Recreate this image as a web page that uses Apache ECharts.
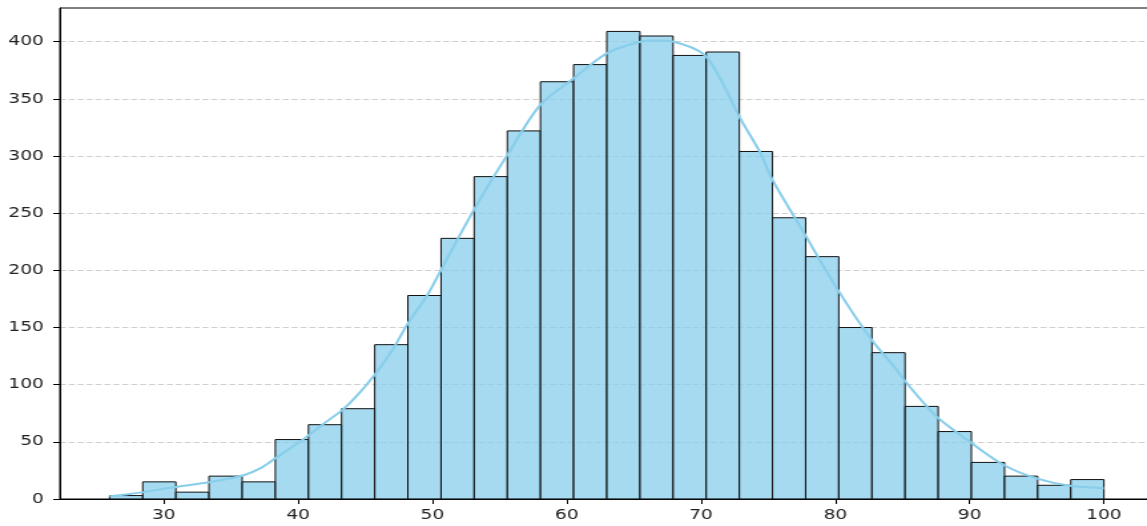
<!DOCTYPE html>
<html>
<head>
<meta charset="utf-8">
<script src="https://cdn.jsdelivr.net/npm/echarts@6/dist/echarts.min.js"></script>
<style>
  html, body { margin: 0; padding: 0; background: #fff; overflow: hidden; }
  #wrap { width: 1147px; height: 526px; overflow: hidden; }
  /* the figure is laid out narrow and stretched horizontally; its right edge runs past the window */
  #chart { width: 867px; height: 526px; transform: scaleX(1.3306); transform-origin: 0 0; }
</style>
</head>
<body>
<div id="wrap"><div id="chart"></div></div>
<script>
// Histogram: 30 equal-width bins between binLow and binHigh
const binLow = 25.96;
const binHigh = 100;
const counts = [3, 15, 6, 20, 15, 52, 65, 79, 135, 178,
                228, 282, 322, 365, 380, 409, 405, 388, 391, 304,
                246, 212, 150, 128, 81, 59, 32, 20, 12, 17];

// Density estimate, scaled to counts
const kdeX = [25.96, 27.2, 28.5, 30, 31.5, 33, 34.5, 36, 37.2, 38.35,
              39.5, 40.7, 41.8, 43.3, 44.5, 45.66, 47, 48.14, 49.6, 50.62,
              53.09, 55.58, 58.05, 60.53, 63.01, 65.49, 66.7, 67.96, 70.19, 71.5,
              72.92, 74.4, 75.28, 77.75, 80.23, 82.71, 84.57, 85.06, 87.55, 90.02,
              92.5, 94.98, 97.46, 100];
const kdeY = [2.5, 4, 6, 9, 11.5, 14, 17, 21, 27, 36,
              45, 55, 65, 78, 92, 108, 130, 153, 178, 200,
              253, 301, 345, 368, 390, 400, 401, 400, 389, 366,
              333, 303, 280, 231, 182, 139, 113, 105, 72, 50,
              30, 18, 11.5, 9.5];

const xTicks = [30, 40, 50, 60, 70, 80, 90, 100];
const yTicks = [0, 50, 100, 150, 200, 250, 300, 350, 400];

const binWidth = (binHigh - binLow) / counts.length;
const barData = counts.map((c, i) => [binLow + i * binWidth, binLow + (i + 1) * binWidth, c]);
const lineData = kdeX.map((x, i) => [x, kdeY[i]]);

const labelStyle = { fontFamily: 'DejaVu Sans', fontSize: 14, color: '#222' };

const chart = echarts.init(document.getElementById('chart'), null, { renderer: 'canvas' });
chart.setOption({
  animation: false,
  backgroundColor: '#fff',
  grid: {
    left: 45, right: 0, top: 8, bottom: 27,
    show: true, borderColor: '#000', borderWidth: 1, backgroundColor: 'transparent'
  },
  xAxis: {
    type: 'value', min: 22.26, max: 103.7,
    axisLine: { show: true, lineStyle: { color: '#000', width: 1 } },
    axisTick: { show: true, customValues: xTicks, length: 5, lineStyle: { color: '#000' } },
    axisLabel: Object.assign({ customValues: xTicks, margin: 9 }, labelStyle),
    splitLine: { show: false }
  },
  yAxis: {
    type: 'value', min: 0, max: 429.5, interval: 50,
    axisLine: { show: true, lineStyle: { color: '#000', width: 1 } },
    axisTick: { show: true, customValues: yTicks, length: 5, lineStyle: { color: '#000' } },
    axisLabel: Object.assign({ customValues: yTicks, margin: 12 }, labelStyle),
    splitLine: { show: true, lineStyle: { color: '#cfcfcf', width: 1, type: [4.5, 2.2] } }
  },
  series: [
    {
      type: 'custom',
      data: barData,
      z: 2,
      renderItem: function (params, api) {
        const p0 = api.coord([api.value(0), api.value(2)]);
        const p1 = api.coord([api.value(1), 0]);
        return {
          type: 'rect',
          shape: { x: p0[0], y: p0[1], width: p1[0] - p0[0], height: p1[1] - p0[1] },
          style: { fill: 'rgba(135,206,235,0.75)', stroke: '#111', lineWidth: 1 }
        };
      }
    },
    {
      type: 'line',
      data: lineData,
      z: 3,
      smooth: 0.3,
      showSymbol: false,
      lineStyle: { color: '#87ceeb', width: 2 }
    }
  ]
});
</script>
</body>
</html>
